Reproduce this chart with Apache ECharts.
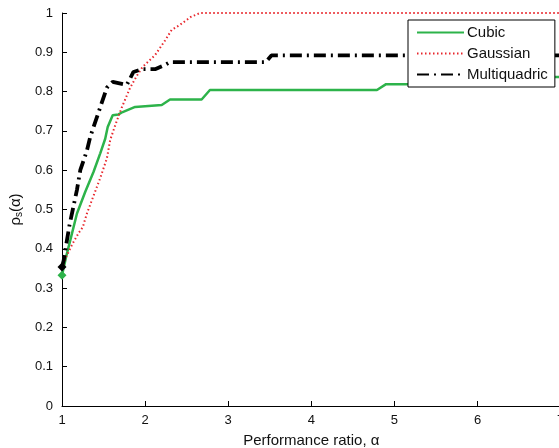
<!DOCTYPE html>
<html>
<head>
<meta charset="utf-8">
<script src="https://cdn.jsdelivr.net/npm/echarts@6/dist/echarts.min.js"></script>
<style>
  html, body { margin: 0; padding: 0; background: #fff; }
  #chart { width: 559px; height: 448px; }
</style>
</head>
<body>
<div id="chart"></div>
<script>
// Performance profiles rho_s(alpha) for three radial basis functions
const cubicAlpha = [1.0, 1.05, 1.1, 1.18, 1.28, 1.38, 1.46, 1.52, 1.55, 1.61, 1.68, 1.73, 1.88, 2.2, 2.3, 2.68, 2.78, 4.79, 4.9, 6.2, 6.25, 7.0];
const cubicRho   = [0.333, 0.38, 0.422, 0.49, 0.545, 0.596, 0.643, 0.68, 0.71, 0.74, 0.742, 0.748, 0.761, 0.766, 0.78, 0.78, 0.804, 0.804, 0.819, 0.819, 0.837, 0.837];

const gaussAlpha = [1.0, 1.05, 1.13, 1.2, 1.25, 1.3, 1.36, 1.46, 1.54, 1.58, 1.65, 1.72, 1.82, 1.9, 1.97, 2.12, 2.24, 2.32, 2.42, 2.55, 2.66, 7.0];
const gaussRho   = [0.35, 0.38, 0.414, 0.44, 0.455, 0.49, 0.524, 0.58, 0.63, 0.677, 0.72, 0.76, 0.81, 0.84, 0.863, 0.893, 0.93, 0.957, 0.97, 0.99, 1.0, 1.0];

const mqAlpha = [1.0, 1.02, 1.05, 1.09, 1.13, 1.18, 1.22, 1.3, 1.34, 1.46, 1.54, 1.61, 1.78, 1.86, 1.96, 2.12, 2.24, 2.3, 3.45, 3.52, 7.0];
const mqRho   = [0.354, 0.37, 0.41, 0.46, 0.5, 0.55, 0.6, 0.65, 0.685, 0.76, 0.81, 0.825, 0.817, 0.85, 0.857, 0.857, 0.868, 0.875, 0.875, 0.892, 0.892];

const seriesNames = ['Cubic', 'Gaussian', 'Multiquadric'];
const xTicks = [1, 2, 3, 4, 5, 6, 7];

function pairs(xs, ys, startSymbol, startColor) {
  return xs.map((x, i) => {
    if (i === 0 && startSymbol) {
      return { value: [x, ys[i]], symbol: startSymbol, symbolSize: 9, itemStyle: { color: startColor } };
    }
    return [x, ys[i]];
  });
}

const chart = echarts.init(document.getElementById('chart'), null, { renderer: 'canvas' });
const font = 'Liberation Sans, Arial, Helvetica, sans-serif';

chart.setOption({
  animation: false,
  backgroundColor: '#fff',
  grid: { left: 62, top: 13, width: 498.6, height: 393, containLabel: false, outerBoundsMode: 'none' },
  legend: {
    data: seriesNames,
    orient: 'vertical',
    left: 408,
    top: 20,
    width: 148,
    z: 20,
    padding: [5, 7, 5, 8],
    itemGap: 6,
    itemWidth: 47,
    itemHeight: 14,
    itemStyle: { opacity: 0 },
    backgroundColor: '#fff',
    borderColor: '#000',
    borderWidth: 1,
    borderRadius: 0,
    textStyle: { fontFamily: font, fontSize: 15, color: '#111', padding: [0, 0, 0, -2] }
  },
  xAxis: {
    type: 'value',
    min: 1,
    max: 7,
    interval: 1,
    name: 'Performance ratio, α',
    nameLocation: 'middle',
    nameGap: 27,
    nameTextStyle: { fontFamily: font, fontSize: 15, color: '#111' },
    axisLine: { lineStyle: { color: '#000', width: 1 } },
    axisTick: { inside: true, length: 5, lineStyle: { color: '#000' } },
    axisLabel: {
      fontFamily: font, fontSize: 13, color: '#111', margin: 8,
      formatter: v => (xTicks.indexOf(v) >= 0 ? String(v) : '')
    },
    splitLine: { show: false }
  },
  yAxis: {
    type: 'value',
    min: 0,
    max: 1,
    interval: 0.1,
    name: '{r|ρ}{s|s}{r|(α)}',
    nameLocation: 'middle',
    nameRotate: 90,
    nameGap: 36,
    nameTextStyle: {
      rich: {
        r: { fontFamily: font, fontSize: 15, color: '#111' },
        s: { fontFamily: font, fontSize: 10, color: '#111', padding: [6, 0, 0, 0] }
      }
    },
    axisLine: { show: true, lineStyle: { color: '#000', width: 1 } },
    axisTick: { show: true, inside: true, length: 5, lineStyle: { color: '#000' } },
    axisLabel: {
      fontFamily: font, fontSize: 13, color: '#111', margin: 9,
      formatter: v => (Math.abs(v - 1) < 1e-9 ? '1' : Math.abs(v) < 1e-9 ? '0' : v.toFixed(1))
    },
    splitLine: { show: false }
  },
  series: [
    {
      name: 'Cubic',
      type: 'line',
      symbol: 'none',
      data: pairs(cubicAlpha, cubicRho, 'diamond', '#2db34a'),
      color: '#2db34a',
      lineStyle: { color: '#2db34a', width: 2.5 }
    },
    {
      name: 'Gaussian',
      type: 'line',
      symbol: 'none',
      data: pairs(gaussAlpha, gaussRho, null, null),
      color: '#e8262c',
      lineStyle: { color: '#e8262c', width: 2, type: [1.5, 2.5] }
    },
    {
      name: 'Multiquadric',
      type: 'line',
      symbol: 'none',
      data: pairs(mqAlpha, mqRho, 'diamond', '#000'),
      color: '#000',
      lineStyle: { color: '#000', width: 3.8, type: [12, 5, 2, 5] }
    }
  ]
});
</script>
</body>
</html>
